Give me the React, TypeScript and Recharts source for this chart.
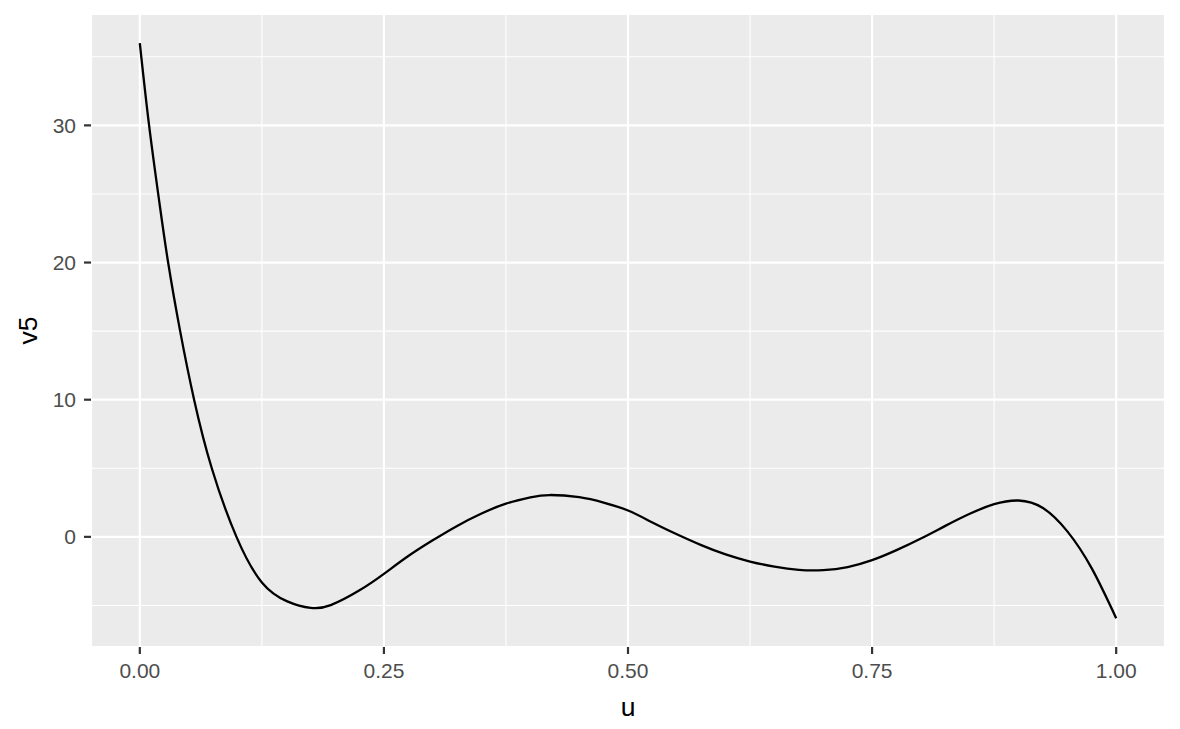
import { CartesianGrid, Label, Line, LineChart, ReferenceLine, XAxis, YAxis } from "recharts";

const U_VALUES = [
  0, 0.0095, 0.02, 0.029, 0.0413, 0.0556, 0.0737, 0.099, 0.125, 0.151, 0.175, 0.1955, 0.225, 0.25, 0.275, 0.3,
  0.325, 0.35, 0.375, 0.4, 0.42, 0.45, 0.475, 0.5, 0.525, 0.55, 0.575, 0.6, 0.625, 0.65, 0.675, 0.7, 0.725,
  0.75, 0.775, 0.8, 0.825, 0.85, 0.875, 0.9, 0.925, 0.95, 0.975, 1,
];
const V5_VALUES = [
  36, 30, 24.4, 20, 15, 10, 5, 0, -3.32, -4.7, -5.18, -4.98, -3.9, -2.7, -1.4, -0.25,
  0.8, 1.7, 2.42, 2.88, 3.05, 2.89, 2.5, 1.92, 1.05, 0.19, -0.6, -1.28, -1.8, -2.17, -2.4, -2.42, -2.2,
  -1.7, -0.97, -0.12, 0.8, 1.68, 2.38, 2.65, 2.1, 0.4, -2.3, -5.93,
];

const X_TICKS = [0, 0.25, 0.5, 0.75, 1];
const X_MINOR = [0.125, 0.375, 0.625, 0.875];
const Y_TICKS = [0, 10, 20, 30];
const Y_MINOR = [-5, 5, 15, 25, 35];

const data = U_VALUES.map((u, i) => ({ u, v5: V5_VALUES[i] }));

const FONT = "'Liberation Sans', Arial, Helvetica, sans-serif";
const tickStyle = { fontSize: 21, fill: "#4D4D4D", fontFamily: FONT };

export default function App() {
  return (
    <div style={{ position: "absolute", left: 0, top: 0, background: "#fff" }}>
      <LineChart width={1180} height={729} data={data} margin={{ top: 14, right: 15, bottom: 0, left: 0 }}>
        <CartesianGrid fill="#EBEBEB" stroke="#FFFFFF" strokeWidth={2.2} />
        {X_MINOR.map((x) => (
          <ReferenceLine key={`x${x}`} x={x} stroke="#FFFFFF" strokeWidth={1.1} />
        ))}
        {Y_MINOR.map((y) => (
          <ReferenceLine key={`y${y}`} y={y} stroke="#FFFFFF" strokeWidth={1.1} />
        ))}
        <XAxis
          dataKey="u"
          type="number"
          domain={[-0.05, 1.05]}
          allowDataOverflow
          ticks={X_TICKS}
          tickFormatter={(v: number) => v.toFixed(2)}
          tick={tickStyle}
          tickSize={7}
          tickMargin={9}
          tickLine={{ stroke: "#333333", strokeWidth: 2.2 }}
          axisLine={false}
          height={82}
        >
          <Label
            value="u"
            position="insideBottom"
            offset={13}
            style={{ fontSize: 26.5, fill: "#000", fontFamily: FONT }}
          />
        </XAxis>
        <YAxis
          type="number"
          domain={[-8.03, 38.12]}
          allowDataOverflow
          ticks={Y_TICKS}
          tick={tickStyle}
          tickSize={7}
          tickMargin={8}
          tickLine={{ stroke: "#333333", strokeWidth: 2.2 }}
          axisLine={false}
          width={91}
        >
          <Label
            content={({ viewBox }: any) => {
              const cx = viewBox.x + 28;
              const cy = viewBox.y + viewBox.height / 2;
              return (
                <text
                  x={cx}
                  y={cy}
                  transform={`rotate(-90 ${cx} ${cy})`}
                  textAnchor="middle"
                  dominantBaseline="central"
                  style={{ fontSize: 26.5, fill: "#000", fontFamily: FONT }}
                >
                  v5
                </text>
              );
            }}
          />
        </YAxis>
        <Line
          type="natural"
          dataKey="v5"
          stroke="#000000"
          strokeWidth={2.3}
          dot={false}
          isAnimationActive={false}
        />
      </LineChart>
    </div>
  );
}
